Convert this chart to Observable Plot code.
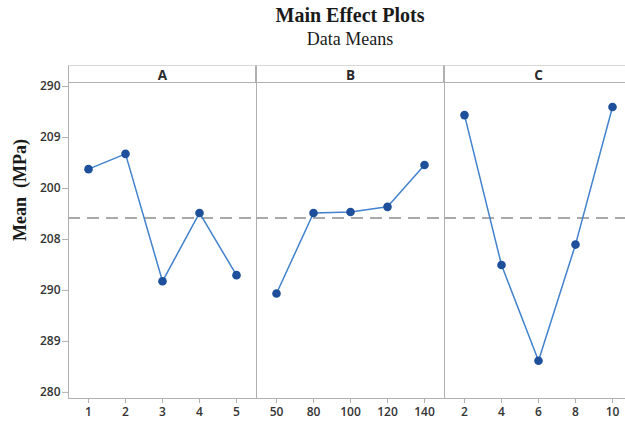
<!DOCTYPE html>
<html>
<head>
<meta charset="utf-8">
<script src="https://cdn.jsdelivr.net/npm/d3@7"></script>
<script src="https://cdn.jsdelivr.net/npm/@observablehq/plot@0.6"></script>
<style>
  html, body { margin: 0; padding: 0; background: #fff; overflow: hidden; }
  #wrap { position: relative; width: 625px; height: 421px; overflow: hidden; background: #fff; }
  .title { position: absolute; left: 68px; width: 564px; text-align: center; font-family: "Liberation Serif", "DejaVu Serif", serif; color: #1a1a1a; }
  #t1 { top: 4px; font-size: 20px; font-weight: bold; }
  #t2 { top: 29px; font-size: 18px; }
  #ylab { position: absolute; left: 20px; top: 190px; transform: translate(-50%, -50%) rotate(-90deg); white-space: pre; font-family: "Liberation Serif", serif; font-weight: bold; font-size: 18px; color: #1a1a1a; }
  .strip { position: absolute; top: 65px; height: 17px; box-sizing: border-box; border-top: 1px solid #d8d8d8; border-left: 1px solid #b0b0b0; border-right: 1px solid #b0b0b0; }
  .panel { position: absolute; top: 60px; }
  .panel svg g[aria-label*="axis"] line, .panel svg g[aria-label*="axis"] path { stroke: #b0b0b0; }
</style>
</head>
<body>
<div id="wrap">
  <div class="title" id="t1">Main Effect Plots</div>
  <div class="title" id="t2">Data Means</div>
  <div id="ylab">Mean  (MPa)</div>
</div>
<script>
const factors = ["A", "B", "C"];
const levelsA = ["1", "2", "3", "4", "5"];
const meansA = [201.9, 203.4, 190.9, 197.6, 191.5];
const levelsB = ["50", "80", "100", "120", "140"];
const meansB = [189.7, 197.6, 197.7, 198.2, 202.3];
const levelsC = ["2", "4", "6", "8", "10"];
const meansC = [207.2, 192.5, 183.1, 194.5, 208.0];
const grandMean = 197.1;
const yTicks = [180, 185, 190, 195, 200, 205, 210];
const yTickLabels = ["280", "289", "290", "208", "200", "209", "290"];

const wrap = document.getElementById("wrap");
const panelW = 188;
const left0 = 68;

function panel(factor, levels, means, first) {
  const rows = levels.map((l, i) => ({factor, level: l, mean: means[i]}));
  const svg = Plot.plot({
    width: first ? left0 + panelW : panelW,
    height: 361,
    marginTop: 22,
    marginBottom: 23,
    marginLeft: first ? left0 : 0,
    marginRight: 0,
    style: {background: "transparent", overflow: "visible", fontFamily: "'Open Sans', 'Noto Sans', sans-serif", fontSize: "12px", fontWeight: 600, color: "#333"},
    facet: {data: rows, x: "factor"},
    fx: {padding: 0, axis: "top", label: null, tickSize: 0, tickPadding: 3},
    x: {type: "point", domain: levels, padding: 0.48, label: null, tickSize: 5, tickPadding: 4},
    y: {domain: [179.4, 210.4], ticks: yTicks, tickFormat: d => yTickLabels[yTicks.indexOf(d)], label: null, axis: first ? "left" : null, tickSize: 6, tickPadding: 2},
    marks: [
      Plot.frame({stroke: "#b0b0b0"}),
      Plot.ruleY([grandMean], {stroke: "#a9a9a9", strokeWidth: 2, strokeDasharray: "12,7"}),
      Plot.line(rows, {x: "level", y: "mean", stroke: "#4282cc", strokeWidth: 1.5}),
      Plot.dot(rows, {x: "level", y: "mean", r: 4.3, fill: "#1d4f9a", stroke: "none"})
    ]
  });
  d3.select(svg).selectAll("text").filter(function () { return this.textContent === factor; })
    .style("font-size", "13.5px").style("font-weight", "700").style("fill", "#2a2a2a");
  return svg;
}

const specs = [[levelsA, meansA], [levelsB, meansB], [levelsC, meansC]];
factors.forEach((f, i) => {
  const strip = document.createElement("div");
  strip.className = "strip";
  strip.style.left = (left0 + i * panelW) + "px";
  strip.style.width = panelW + "px";
  wrap.appendChild(strip);
  const div = document.createElement("div");
  div.className = "panel";
  div.style.left = (i === 0 ? 0 : left0 + i * panelW) + "px";
  div.style.width = (i === 0 ? left0 + panelW : panelW) + "px";
  div.appendChild(panel(f, specs[i][0], specs[i][1], i === 0));
  wrap.appendChild(div);
});
</script>
</body>
</html>
